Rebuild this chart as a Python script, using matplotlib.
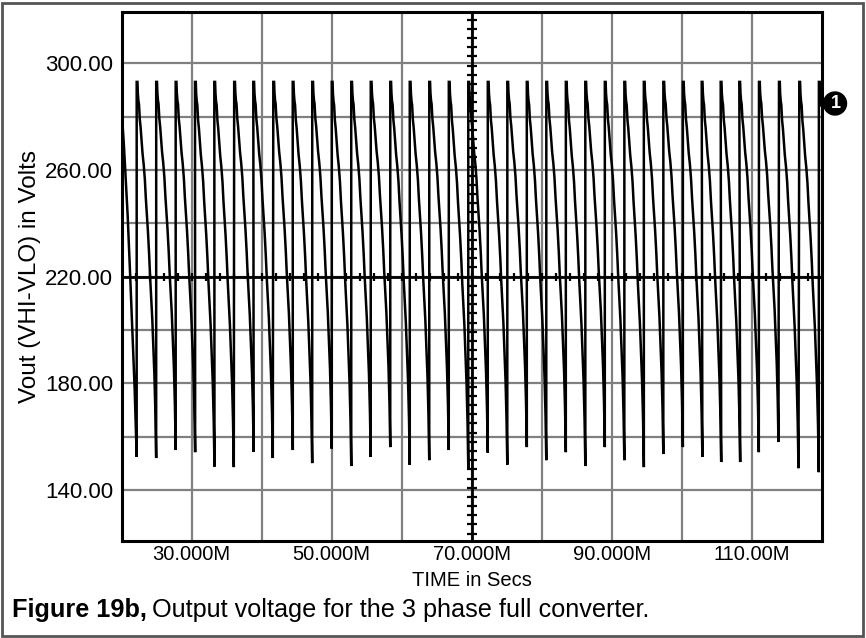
import matplotlib
matplotlib.use("Agg")
import matplotlib.pyplot as plt
from matplotlib.patches import Rectangle, Ellipse
import numpy as np

plt.rcParams['font.family'] = ['Liberation Sans', 'DejaVu Sans']

# ---------------- data ----------------
# time (ms) of each vertical rise of the rectified output
jump_times = [22.14, 24.93, 27.71, 30.47, 33.23, 36.07, 38.80, 41.66, 44.43,
              47.22, 50.01, 52.79, 55.58, 58.37, 61.15, 63.94, 66.73, 69.51,
              72.30, 75.09, 77.87, 80.66, 83.45, 86.23, 89.02, 91.81, 94.59,
              97.38, 100.17, 102.86, 105.57, 108.23, 111.04, 113.90, 116.80, 119.60]
# lowest value (V) reached just before each rise (one per rise)
troughs = [152.4, 152.0, 155.0, 154.2, 148.8, 148.6, 154.3, 152.0, 155.0,
           150.1, 155.5, 149.0, 152.4, 156.1, 149.4, 151.2, 155.0, 148.0,
           154.0, 149.5, 156.1, 151.2, 154.2, 149.0, 156.1, 151.2, 148.6,
           153.5, 156.1, 152.4, 150.5, 150.5, 154.2, 158.0, 148.2, 146.7]
# peak value (V) at top of each rise
peak_v = 293.0
# shape of one falling segment: fraction of the period / fraction of the drop
seg_frac = [0.00, 0.04, 0.06, 0.09, 0.12, 0.16, 0.20, 0.26, 0.30, 0.36,
            0.42, 0.47, 0.52, 0.58, 0.64, 0.69, 0.74, 0.80, 0.85, 0.91, 0.96, 1.00]
seg_drop = [0.00, 0.00, 0.03, 0.05, 0.06, 0.10, 0.12, 0.16, 0.19, 0.22,
            0.26, 0.31, 0.35, 0.40, 0.46, 0.52, 0.57, 0.63, 0.70, 0.78, 0.88, 1.00]
# partial falling segment at the left edge (before the first rise)
first_t = [20.00, 20.12, 20.30, 20.50, 20.85, 21.20, 21.55, 21.85, 22.14]
first_v = [283.7, 277.0, 270.0, 260.0, 243.0, 221.0, 198.0, 178.0, 152.4]

x_major = [30, 50, 70, 90, 110]
x_labels = ['30.000M', '50.000M', '70.000M', '90.000M', '110.00M']
x_grid = [30, 40, 50, 60, 70, 80, 90, 100, 110]
y_major = [140, 180, 220, 260, 300]
y_labels = ['140.00', '180.00', '220.00', '260.00', '300.00']
y_grid = [140, 160, 180, 200, 220, 240, 260, 280, 300]

# ---------------- build the trace ----------------
period = (jump_times[-1] - jump_times[0]) / (len(jump_times) - 1)
tt, vv = list(first_t), list(first_v)
for i, tj in enumerate(jump_times):
    nxt = troughs[i + 1] if i + 1 < len(troughs) else troughs[-1]
    for f, d in zip(seg_frac, seg_drop):
        t = tj + f * period
        v = peak_v - (peak_v - nxt) * d
        if t <= 120.0:
            tt.append(t); vv.append(v)

# ---------------- figure ----------------
W, H = 866, 638
fig = plt.figure(figsize=(W / 100, H / 100), dpi=100)
ax = fig.add_axes([121.7 / W, 1 - 541 / H, 700 / W, 529 / H])
ax.set_xlim(20, 120)
ax.set_ylim(120.9, 319.2)

for x in x_grid:
    ax.axvline(x, color='#808080', lw=1.6, zorder=1)
for y in y_grid:
    ax.axhline(y, color='#808080', lw=1.6, zorder=1)

ax.plot(tt, vv, color='black', lw=1.8, zorder=3, solid_joinstyle='miter')

# centre crosshair with minor ticks
ax.axhline(220, color='black', lw=2.0, zorder=4)
ax.axvline(70, color='black', lw=2.0, zorder=4)
hx = np.arange(20, 120.01, 2.0)
ax.plot(hx, np.full_like(hx, 220.0), ls='none', marker='|', ms=6, mew=1.6, color='black', zorder=4)
vy = 220 + 3.44 * np.arange(-29, 29)
vy = vy[(vy > 121) & (vy < 319)]
ax.plot(np.full_like(vy, 70.0), vy, ls='none', marker='_', ms=6.5, mew=1.6, color='black', zorder=4)

ax.set_xticks(x_major)
ax.set_xticklabels(x_labels)
ax.set_yticks(y_major)
ax.set_yticklabels(y_labels)
ax.tick_params(length=0)
ax.tick_params(axis='x', labelsize=14.5, pad=3)
ax.tick_params(axis='y', labelsize=16, pad=6)
for s in ax.spines.values():
    s.set_linewidth(2.2)
    s.set_color('black')
ax.set_xlabel('TIME in Secs', fontsize=14.5, labelpad=5)
ax.set_ylabel('Vout (VHI-VLO) in Volts', fontsize=17.5, labelpad=3)

# marker "1"
fig.patches.append(Ellipse((835 / W, 1 - 103.5 / H), 23 / W, 23 / H, transform=fig.transFigure,
                           facecolor='black', edgecolor='black'))
fig.text(835.5 / W, 1 - 103.5 / H, '1', color='white', fontsize=13, fontweight='bold',
         ha='center', va='center')

# outer frame
fig.patches.append(Rectangle((2 / W, 2 / H), 861 / W, 633 / H, transform=fig.transFigure,
                             fill=False, edgecolor='#555555', lw=2))

# caption
cap1 = fig.text(12 / W, 1 - 610 / H, 'Figure 19b,', fontsize=18.2, fontweight='bold',
                ha='left', va='center')
r = fig.canvas.get_renderer()
bb = cap1.get_window_extent(renderer=r)
fig.text((bb.x1 + 5) / W, 1 - 610 / H, 'Output voltage for the 3 phase full converter.',
         fontsize=18.2, ha='left', va='center')

fig.savefig('out.png', dpi=100)
